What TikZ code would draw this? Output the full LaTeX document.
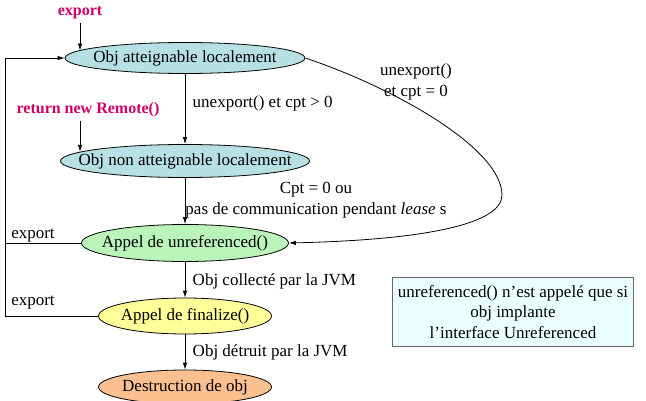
\documentclass[tikz,border=0pt]{standalone}
\usepackage{fontspec}
\setmainfont{Liberation Serif}
\usetikzlibrary{shapes.geometric,arrows.meta}
\definecolor{rougeRMI}{RGB}{204,0,102}
\definecolor{bleuEtat}{RGB}{182,224,228}
\definecolor{vertEtat}{RGB}{186,244,186}
\definecolor{jauneEtat}{RGB}{255,255,153}
\definecolor{orangeEtat}{RGB}{250,192,144}
\definecolor{fondNote}{RGB}{234,255,255}
%% text of an ellipse does not widen it
\newcommand{\txtEtat}[1]{\makebox[0pt]{#1}}
\begin{document}
\begin{tikzpicture}[x=1pt,y=-1pt,line width=.8pt,
    font=\fontsize{17}{20.5}\selectfont,
    etat/.style={ellipse,draw,inner sep=0pt},
    arr/.style={-{Latex[length=7pt,width=4.5pt]}},
    rouge/.style={text=rougeRMI,font=\fontsize{16}{19}\selectfont\bfseries}]
    \useasboundingbox (0,0) rectangle (646,401);%

    %% states
    \node[etat,fill=bleuEtat,minimum width=240,minimum height=31] (e1) at (185,58) {\txtEtat{Obj atteignable localement}};%
    \node[etat,fill=bleuEtat,minimum width=249,minimum height=33] (e2) at (185,161) {\txtEtat{Obj non atteignable localement}};%
    \node[etat,fill=vertEtat,minimum width=207,minimum height=37] (e3) at (185,243) {\txtEtat{Appel de unreferenced()}};%
    \node[etat,fill=jauneEtat,minimum width=173,minimum height=36] (e4) at (185,316) {\txtEtat{Appel de finalize()}};%
    \node[etat,fill=orangeEtat,minimum width=173,minimum height=34] (e5) at (185,387) {\txtEtat{Destruction de obj}};%
    \foreach \a/\b in {e1/e2, e2/e3, e3/e4, e4/e5} \draw[arr] (\a) -- (\b);%

    %% entries
    \node[rouge] (ex) at (80,13) {export};%
    \draw[arr] (ex.south) -- (ex.south |- e1.176);%
    \node[rouge] (rn) at (88,110) {return new Remote()};%
    \draw[arr] ([xshift=-8pt]rn.south) -- ([xshift=-8pt]rn.south |- e2.175);%

    %% back to the first state
    \coordinate (lp) at (5,58);%
    \draw[arr] (e4.west) -| (lp) -- (e1.west);%
    \draw (e3.west) -- (e3.west -| lp);%
    \node (x1) at (33,236) {export};%
    \node (x2) at (33,303) {export};%

    %% long way round
    \coordinate (tour) at (502,195);%
    \draw[arr] (e1.east) .. controls (400,90) and (502,150) .. (tour)
    .. controls (502,225) and (420,240) .. (e3.east);%

    %% labels
    \node[anchor=west] (l1) at (189,103) {unexport() et cpt > 0};%
    \node[align=center] (l2) at (416,82) {unexport()\\ et cpt = 0};%
    \node[align=center] (l3) at (316,200) {Cpt = 0 ou\\ pas de communication pendant \textit{lease} s};%
    \node[anchor=west] (l4) at (189,281) {Obj collecté par la JVM};%
    \node[anchor=west] (l5) at (189,352) {Obj détruit par la JVM};%

    %% note
    \node[draw=black!60,fill=fondNote,align=center,minimum width=241,minimum height=69] (note) at (513,312)
    {unreferenced() n'est appelé que si\\ obj implante\\ l'interface Unreferenced};%
  \end{tikzpicture}
\end{document}
